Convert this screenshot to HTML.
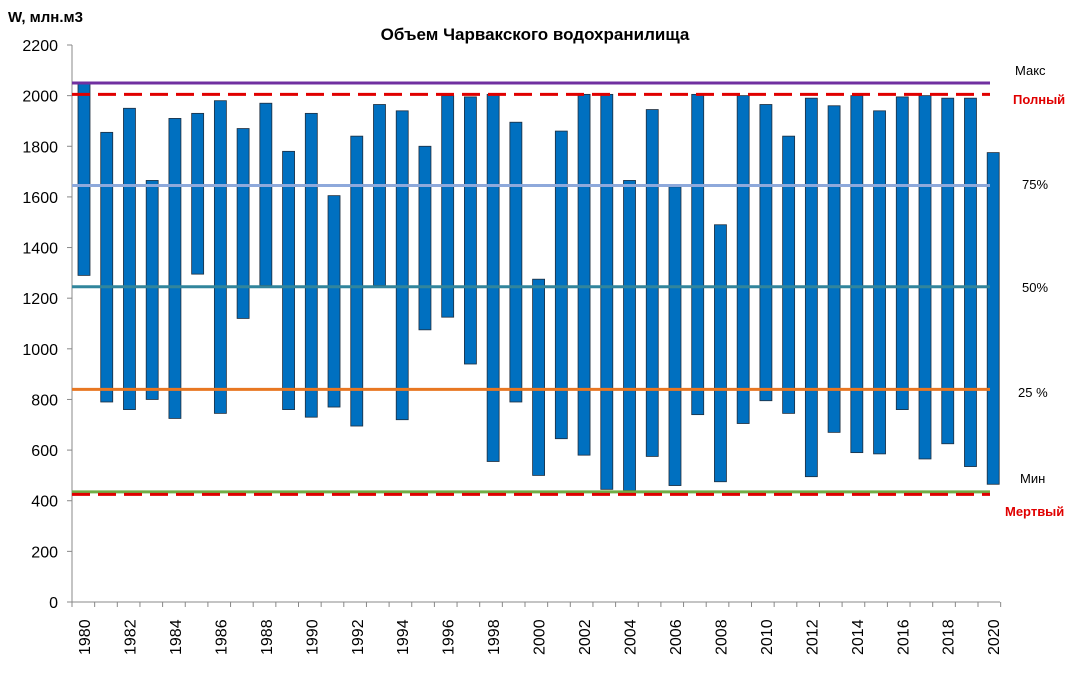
<!DOCTYPE html>
<html><head><meta charset="utf-8"><style>
html,body{margin:0;padding:0;background:#fff;}
svg{display:block;font-family:"Liberation Sans","DejaVu Sans",sans-serif;}
</style></head><body>
<svg id="c" width="1080" height="692" viewBox="0 0 1080 692" xmlns="http://www.w3.org/2000/svg"></svg>
<script>
var s=document.getElementById('c');
var h='';
function Y(v){return 602-v*557/2200;}
function X(i){return 84+i*22.73;}
var d=[[2050,1290],[1855,790],[1950,760],[1665,800],[1910,725],[1930,1295],[1980,745],[1870,1120],[1970,1250],[1780,760],[1930,730],[1605,770],[1840,695],[1965,1250],[1940,720],[1800,1075],[2000,1125],[1995,940],[2005,555],[1895,790],[1275,500],[1860,645],[2005,580],[2005,445],[1665,440],[1945,575],[1640,460],[2005,740],[1490,475],[2000,705],[1965,795],[1840,745],[1990,495],[1960,670],[2000,590],[1940,585],[1995,760],[2000,565],[1990,625],[1990,535],[1775,465]];
// axes
h+='<line x1="72" y1="45" x2="72" y2="602" stroke="#888" stroke-width="1"/>';
h+='<line x1="72" y1="602" x2="1000" y2="602" stroke="#888" stroke-width="1"/>';
for(var v=0;v<=2200;v+=200){var y=Y(v);h+='<line x1="67" y1="'+y+'" x2="72" y2="'+y+'" stroke="#888"/>';
h+='<text x="58" y="'+(y+6)+'" font-size="16" text-anchor="end" fill="#000">'+v+'</text>';}
for(var i=0;i<=41;i++){var x=72+i*22.65;h+='<line x1="'+x+'" y1="602" x2="'+x+'" y2="607" stroke="#888"/>';}
for(var i=0;i<=40;i+=2){var x=X(i);h+='<text transform="translate('+(x+6)+',655) rotate(-90)" font-size="16" fill="#000">'+(1980+i)+'</text>';}
// bars
for(var i=0;i<d.length;i++){var x=X(i)-6,t=Y(d[i][0]),b=Y(d[i][1]);
h+='<rect x="'+x+'" y="'+t+'" width="12" height="'+(b-t)+'" fill="#0070C0" stroke="#1f2d3d" stroke-width="0.8"/>';}
// lines
function L(v,c,w,da){h+='<line x1="72" y1="'+Y(v)+'" x2="990" y2="'+Y(v)+'" stroke="'+c+'" stroke-width="'+w+'"'+(da?' stroke-dasharray="'+da+'"':'')+'/>';}
L(2050,'#7030A0',3);L(2005,'#E00000',3,'18,8');L(1645,'#8EA9DB',3);L(1245,'#31859C',3);L(840,'#E87722',3);L(435,'#70AD47',3);L(425,'#E00000',3,'18,8');
function T(x,y,t,c,b){h+='<text x="'+x+'" y="'+y+'" font-size="13" fill="'+c+'"'+(b?' font-weight="bold"':'')+'>'+t+'</text>';}
T(1015,75,'Макс','#000');T(1013,104,'Полный','#E00000',1);T(1022,189,'75%','#000');T(1022,292,'50%','#000');T(1018,397,'25 %','#000');T(1020,483,'Мин','#000');T(1005,516,'Мертвый','#E00000',1);
h+='<text x="535" y="40" font-size="17" font-weight="bold" text-anchor="middle">Объем Чарвакского водохранилища</text>';
h+='<text x="8" y="22" font-size="15" font-weight="bold">W, млн.м3</text>';
s.innerHTML=h;
</script>
</body></html>
